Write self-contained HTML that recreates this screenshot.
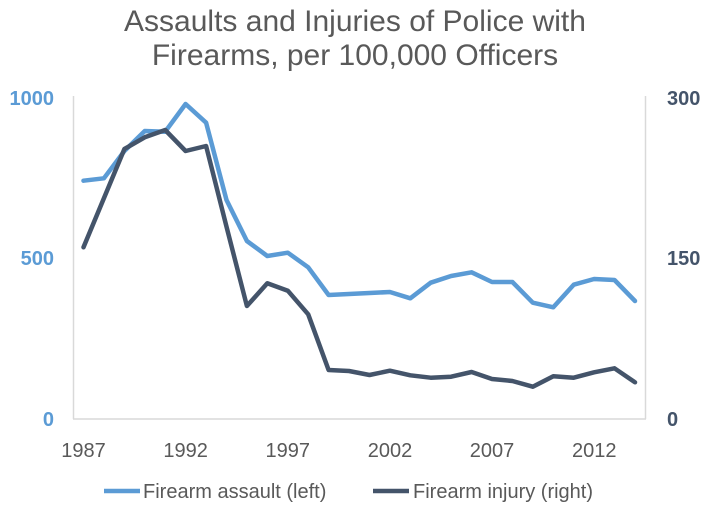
<!DOCTYPE html>
<html><head><style>body{margin:0;background:#fff}</style></head><body>
<svg width="710" height="513" xmlns="http://www.w3.org/2000/svg" font-family="Liberation Sans, sans-serif">
<rect width="710" height="513" fill="#fff"/>
<text x="355" y="31" font-size="30" fill="#595959" text-anchor="middle">Assaults and Injuries of Police with</text>
<text x="355" y="65" font-size="30" fill="#595959" text-anchor="middle">Firearms, per 100,000 Officers</text>
<line x1="73.5" y1="96" x2="73.5" y2="419" stroke="#d9d9d9" stroke-width="1.5"/>
<line x1="645.5" y1="96" x2="645.5" y2="419" stroke="#d9d9d9" stroke-width="1.5"/>
<line x1="73" y1="419" x2="646" y2="419" stroke="#d9d9d9" stroke-width="1.5"/>
<g font-size="20" font-weight="bold" fill="#5B9BD5" text-anchor="end">
<text x="54" y="105">1000</text><text x="54" y="265">500</text><text x="54" y="426">0</text></g>
<g font-size="20" font-weight="bold" fill="#44546A" text-anchor="start">
<text x="667" y="105">300</text><text x="667" y="265">150</text><text x="667" y="426">0</text></g>
<g font-size="20" fill="#595959" text-anchor="middle">
<text x="83.5" y="457">1987</text><text x="185.6" y="457">1992</text><text x="287.8" y="457">1997</text><text x="390" y="457">2002</text><text x="492" y="457">2007</text><text x="594.3" y="457">2012</text></g>
<polyline fill="none" stroke="#5B9BD5" stroke-width="4.5" stroke-linejoin="round" stroke-linecap="round" points="83.5,180.7 103.9,178.3 124.4,151 144.8,131 165.2,131.7 185.6,104 206.1,122.7 226.5,200 246.9,241 267.3,256 287.8,252.7 308.2,267.3 328.6,295 349,294 369.5,293 389.9,292 410.3,298.3 430.7,282.7 451.1,276 471.6,272.3 492,282 512.4,282 532.8,302.7 553.3,307.3 573.7,284.7 594.1,279 614.5,280 635,301"/>
<polyline fill="none" stroke="#44546A" stroke-width="4.5" stroke-linejoin="round" stroke-linecap="round" points="83.5,247.3 103.9,198.3 124.4,149 144.8,137.3 165.2,130 185.6,151 206.1,146 226.5,226.7 246.9,306 267.3,283.3 287.8,290.7 308.2,314.3 328.6,370 349,371 369.5,375 389.9,370.7 410.3,375.3 430.7,377.7 451.1,376.7 471.6,372 492,379 512.4,381 532.8,386.7 553.3,376.3 573.7,377.7 594.1,372.3 614.5,368.3 635,382.3"/>
<line x1="104" y1="491" x2="140" y2="491" stroke="#5B9BD5" stroke-width="4.5"/>
<text x="143" y="498" font-size="20" fill="#595959">Firearm assault (left)</text>
<line x1="373" y1="491" x2="409" y2="491" stroke="#44546A" stroke-width="4.5"/>
<text x="413" y="498" font-size="20" fill="#595959">Firearm injury (right)</text>
</svg>
</body></html>
